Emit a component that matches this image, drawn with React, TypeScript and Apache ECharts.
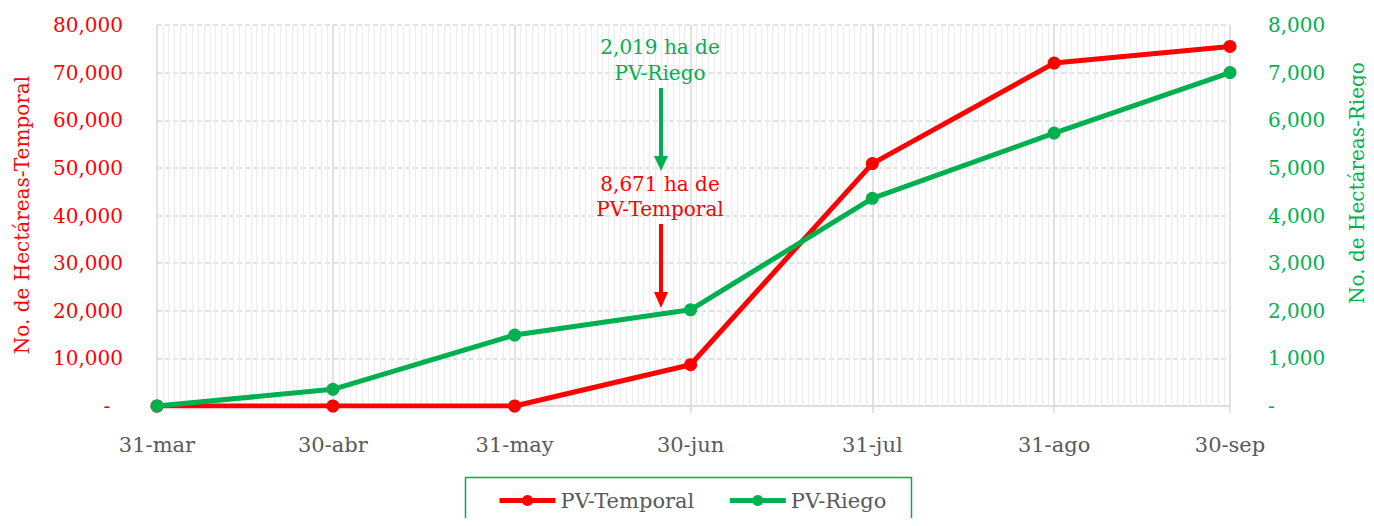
import React, { useEffect, useRef } from "react";
import * as echarts from "echarts";

const dates = ["31-mar", "30-abr", "31-may", "30-jun", "31-jul", "31-ago", "30-sep"];
const temporal = [0, 0, 0, 8671, 50900, 72000, 75500];
const riego = [0, 350, 1490, 2019, 4360, 5730, 7000];
const leftTicks = { min: 0, max: 80000, interval: 10000 };
const rightTicks = { min: 0, max: 8000, interval: 1000 };

const monthNames = ["ene", "feb", "mar", "abr", "may", "jun", "jul", "ago", "sep", "oct", "nov", "dic"];

function buildDays(): string[] {
  const out: string[] = [];
  const start = Date.UTC(2024, 2, 31);
  const end = Date.UTC(2024, 8, 30);
  for (let t = start; t <= end; t += 86400000) {
    const d = new Date(t);
    out.push(`${d.getUTCDate()}-${monthNames[d.getUTCMonth()]}`);
  }
  return out;
}

const FONT = "DejaVu Serif";
const RED = "#ff0000";
const GREEN = "#00b050";
const GRAY = "#595959";

export default function App() {
  const ref = useRef<HTMLDivElement>(null);
  useEffect(() => {
    if (!ref.current) return;
    const chart = echarts.init(ref.current, undefined, { renderer: "svg" });
    const days = buildDays();
    const majorIdx = new Set(dates.map((d) => days.indexOf(d)));
    const toSeries = (vals: number[]) =>
      days.map((d) => {
        const i = dates.indexOf(d);
        return i >= 0 ? vals[i] : null;
      });
    const fmt = (v: number) => v.toLocaleString("en-US");
    const txt = (text: string, fill: string) => ({
      text,
      fill,
      font: `20px "${FONT}"`,
      textAlign: "center",
      textVerticalAlign: "middle",
      stroke: "none",
      lineWidth: 0,
    });

    chart.setOption({
      animation: false,
      textStyle: { fontFamily: FONT },
      grid: { left: 157, right: 144, top: 25, bottom: 120, containLabel: false },
      legend: {
        left: 497,
        top: 490,
        padding: 0,
        itemWidth: 56,
        itemHeight: 14,
        itemGap: 33,
        lineStyle: { width: 5 },
        textStyle: { fontFamily: FONT, fontSize: 21, color: GRAY },
        data: ["PV-Temporal", "PV-Riego"],
      },
      xAxis: [
        {
          type: "category",
          data: days,
          boundaryGap: false,
          axisLine: { lineStyle: { color: "#d9d9d9", width: 1.5 } },
          axisTick: {
            show: true,
            length: 7,
            interval: (i: number) => majorIdx.has(i),
            lineStyle: { color: "#d9d9d9", width: 1.5 },
          },
          axisLabel: {
            interval: (i: number) => majorIdx.has(i),
            color: GRAY,
            fontSize: 21,
            fontFamily: FONT,
            margin: 28,
          },
          splitLine: {
            show: true,
            interval: (i: number) => majorIdx.has(i),
            lineStyle: { color: "#d9d9d9", width: 1.5 },
          },
        },
        {
          type: "category",
          data: days,
          boundaryGap: false,
          position: "bottom",
          axisLine: { show: false },
          axisTick: { show: false },
          axisLabel: { show: false },
          splitLine: {
            show: true,
            interval: (i: number) => !majorIdx.has(i),
            lineStyle: { color: "#ededed", width: 1 },
          },
        },
      ],
      yAxis: [
        {
          type: "value",
          ...leftTicks,
          axisLine: { show: false },
          axisTick: { show: false },
          axisLabel: {
            color: RED,
            fontSize: 20,
            fontFamily: FONT,
            margin: 34,
            formatter: (v: number) => (v === 0 ? "-\u2007" : fmt(v)),
          },
          splitLine: { show: true, lineStyle: { color: "#d9d9d9", width: 1.5, type: [5, 3] } },
        },
        {
          type: "value",
          ...rightTicks,
          position: "right",
          axisLine: { show: false },
          axisTick: { show: false },
          axisLabel: {
            color: GREEN,
            fontSize: 20,
            fontFamily: FONT,
            margin: 38,
            formatter: (v: number) => (v === 0 ? "-" : fmt(v)),
          },
          splitLine: { show: false },
        },
      ],
      series: [
        {
          name: "PV-Temporal",
          type: "line",
          xAxisIndex: 0,
          yAxisIndex: 0,
          data: toSeries(temporal),
          connectNulls: true,
          symbol: "circle",
          symbolSize: 13,
          lineStyle: { color: RED, width: 5 },
          itemStyle: { color: RED },
          z: 3,
        },
        {
          name: "PV-Riego",
          type: "line",
          xAxisIndex: 0,
          yAxisIndex: 1,
          data: toSeries(riego),
          connectNulls: true,
          symbol: "circle",
          symbolSize: 13,
          lineStyle: { color: GREEN, width: 5 },
          itemStyle: { color: GREEN },
          z: 4,
        },
      ],
      graphic: {
        elements: [
          { type: "text", x: 22, y: 215, rotation: Math.PI / 2, z: 100, style: txt("No. de Hectáreas-Temporal", RED) },
          { type: "text", x: 1357, y: 183, rotation: Math.PI / 2, z: 100, style: txt("No. de Hectáreas-Riego", GREEN) },
          { type: "text", x: 660, y: 47, z: 100, style: txt("2,019 ha de", GREEN) },
          { type: "text", x: 660, y: 73, z: 100, style: txt("PV-Riego", GREEN) },
          {
            type: "line",
            z: 100,
            shape: { x1: 661, y1: 88, x2: 661, y2: 158 },
            style: { stroke: GREEN, lineWidth: 4 },
          },
          {
            type: "polygon",
            z: 100,
            shape: { points: [[654, 156], [668, 156], [661, 171]] },
            style: { fill: GREEN },
          },
          { type: "text", x: 660, y: 184, z: 100, style: txt("8,671 ha de", RED) },
          { type: "text", x: 660, y: 209, z: 100, style: txt("PV-Temporal", RED) },
          {
            type: "line",
            z: 100,
            shape: { x1: 661, y1: 224, x2: 661, y2: 294 },
            style: { stroke: RED, lineWidth: 4 },
          },
          {
            type: "polygon",
            z: 100,
            shape: { points: [[654, 292], [668, 292], [661, 308]] },
            style: { fill: RED },
          },
          {
            type: "rect",
            z: 100,
            shape: { x: 465.5, y: 477.5, width: 446, height: 60 },
            style: { fill: "none", stroke: GREEN, lineWidth: 1.5 },
          },
        ],
      },
    });
    return () => chart.dispose();
  }, []);
  return <div ref={ref} style={{ width: 1374, height: 526, margin: -8 }} />;
}
